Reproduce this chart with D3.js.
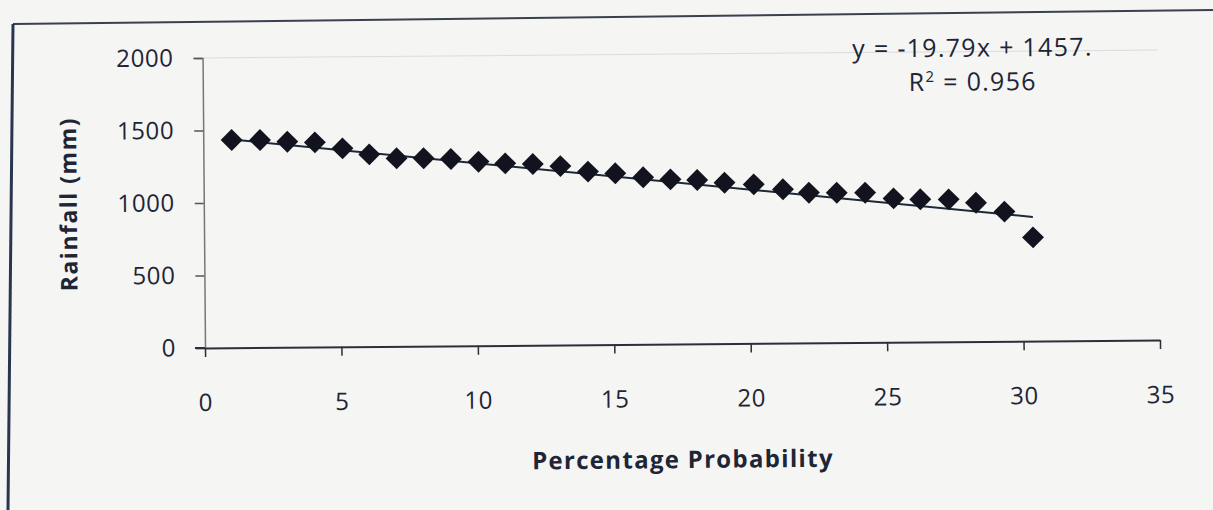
<!DOCTYPE html>
<html>
<head>
<meta charset="utf-8">
<script src="https://cdn.jsdelivr.net/npm/d3@7"></script>
<style>
  html, body { margin: 0; padding: 0; background: #f5f5f4; }
  svg { display: block; }
  text { font-family: "Open Sans", Lato, sans-serif; fill: #1e2535; }
</style>
</head>
<body>
<svg id="chart" width="1213" height="510"></svg>
<script>
// ---- data ----
const probability = [1.04, 2.08, 3.08, 4.09, 5.10, 6.08, 7.08, 8.07, 9.07, 10.08,
                     11.06, 12.07, 13.08, 14.09, 15.09, 16.11, 17.11, 18.09, 19.09, 20.16,
                     21.23, 22.18, 23.20, 24.24, 25.28, 26.26, 27.30, 28.30, 29.34, 30.38];
const rainfall = [1433, 1431, 1418, 1412, 1369, 1326, 1297, 1296, 1289, 1269,
                  1256, 1250, 1234, 1194, 1181, 1152, 1136, 1130, 1110, 1097,
                  1061, 1036, 1034, 1033, 992, 984, 982, 957, 894, 715];
const xTicks = [0, 5, 10, 15, 20, 25, 30, 35];
const yTicks = [0, 500, 1000, 1500, 2000];
const trendSlope = -19.79;
const trendIntercept = 1457;
const equationLabel = "y = -19.79x + 1457.";
const r2Label = "0.956";
const xTitle = "Percentage Probability";
const yTitle = "Rainfall (mm)";

// ---- layout ----
const svg = d3.select("#chart");
const x = d3.scaleLinear().domain([0, 35]).range([205, 1160]);
const y = d3.scaleLinear().domain([0, 2000]).range([348, 58]);
const FONT = "'Open Sans', Lato, sans-serif";

// photo frame
svg.append("line").attr("x1", 13).attr("y1", 24).attr("x2", 1213).attr("y2", 10)
  .attr("stroke", "#3a4050").attr("stroke-width", 2);
svg.append("line").attr("x1", 13).attr("y1", 24).attr("x2", 8).attr("y2", 510)
  .attr("stroke", "#2a3550").attr("stroke-width", 3);

const g = svg.append("g").attr("transform", "rotate(-0.48, 205, 348)");

// faint top border of plot
g.append("line").attr("x1", x(0)).attr("x2", x(35)).attr("y1", y(2000)).attr("y2", y(2000))
  .attr("stroke", "#dcdcdc").attr("stroke-width", 1);

// y axis
const yAxis = g.append("g").attr("transform", `translate(${x(0)},0)`)
  .call(d3.axisLeft(y).tickValues(yTicks).tickSize(9).tickPadding(20).tickFormat(d3.format("d")));
yAxis.select(".domain").attr("stroke", "#777").attr("stroke-width", 1.5);
yAxis.selectAll(".tick line").attr("stroke", "#555").attr("stroke-width", 1.5);
yAxis.selectAll("text").attr("font-size", 24).attr("fill", "#1e2535")
  .attr("letter-spacing", 0.6).style("font-family", FONT);

// x axis
const xAxis = g.append("g").attr("transform", `translate(0,${y(0)})`)
  .call(d3.axisBottom(x).tickValues(xTicks).tickSize(9).tickPadding(37).tickSizeOuter(0));
xAxis.select(".domain").attr("stroke", "#2a2f3a").attr("stroke-width", 2);
xAxis.selectAll(".tick line").attr("stroke", "#2a2f3a").attr("stroke-width", 1.5);
xAxis.selectAll("text").attr("font-size", 24).attr("fill", "#1e2535")
  .attr("letter-spacing", 0.6).style("font-family", FONT);
// extend axis line left to cross y axis
g.append("line").attr("x1", x(0) - 10).attr("x2", x(0)).attr("y1", y(0)).attr("y2", y(0))
  .attr("stroke", "#2a2f3a").attr("stroke-width", 2);

// trend line
const xMin = d3.min(probability), xMax = d3.max(probability);
g.append("line")
  .attr("x1", x(xMin)).attr("y1", y(trendSlope * xMin + trendIntercept))
  .attr("x2", x(xMax)).attr("y2", y(trendSlope * xMax + trendIntercept))
  .attr("stroke", "#1c2a36").attr("stroke-width", 2);

// markers
const diamond = d3.symbol().type(d3.symbolSquare).size(240);
g.selectAll("path.pt").data(probability.map((p, i) => [p, rainfall[i]]))
  .join("path").attr("class", "pt")
  .attr("d", diamond)
  .attr("transform", d => `translate(${x(d[0])},${y(d[1])}) rotate(45)`)
  .attr("fill", "#12131f");

// equation
g.append("text").attr("x", 975).attr("y", 63).attr("text-anchor", "middle")
  .attr("font-size", 25).attr("letter-spacing", 1.3).text(equationLabel);
const r2 = g.append("text").attr("x", 975).attr("y", 97).attr("text-anchor", "middle")
  .attr("font-size", 25).attr("letter-spacing", 1.3);
r2.append("tspan").text("R");
r2.append("tspan").attr("dy", -9).attr("font-size", 15).text("2");
r2.append("tspan").attr("dy", 9).text(" = " + r2Label);

// axis titles
g.append("text").attr("x", 682).attr("y", 472).attr("text-anchor", "middle")
  .attr("font-size", 24).attr("font-weight", "bold").attr("letter-spacing", 1.3).text(xTitle);
g.append("text").attr("transform", "translate(78,203) rotate(-90)").attr("text-anchor", "middle")
  .attr("font-size", 23).attr("font-weight", "bold").attr("letter-spacing", 1.5).text(yTitle);
</script>
</body>
</html>
